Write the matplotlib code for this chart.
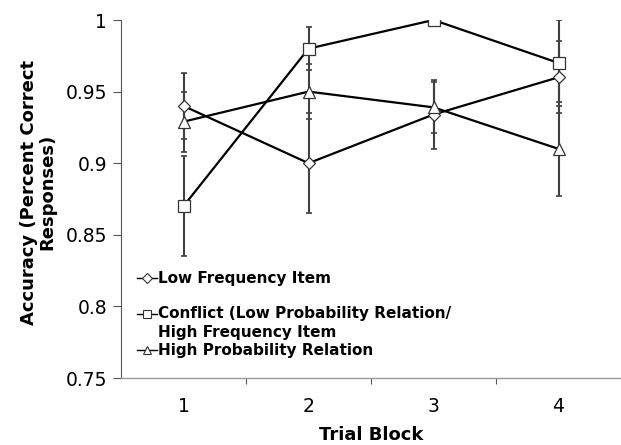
import matplotlib
matplotlib.use("Agg")
import matplotlib.pyplot as plt
import numpy as np

blocks = [1, 2, 3, 4]
block_labels = ["1", "2", "3", "4"]
low_freq = [0.940, 0.900, 0.934, 0.960]
low_freq_err = [0.023, 0.035, 0.024, 0.025]
conflict = [0.870, 0.980, 1.000, 0.970]
conflict_err = [0.035, 0.015, 0.0, 0.030]
high_prob = [0.929, 0.950, 0.939, 0.910]
high_prob_err = [0.021, 0.019, 0.018, 0.033]

labels = ["Low Frequency Item",
          "Conflict (Low Probability Relation/\nHigh Frequency Item",
          "High Probability Relation"]
markers = ["D", "s", "^"]

plt.rcParams['font.family'] = ['DejaVu Sans']
fig = plt.figure(figsize=(6.21, 4.45), dpi=100)
ax = fig.add_axes([121/621, 1-378/445, 500/621, 358/445])

series = [(low_freq, low_freq_err), (conflict, conflict_err), (high_prob, high_prob_err)]
x = np.array(blocks, dtype=float)
for (vals, errs), m in zip(series, markers):
    ax.errorbar(x, vals, yerr=errs, fmt='none', ecolor='#404040', elinewidth=1.5,
                capsize=2.5, capthick=1.2, zorder=2)
for (vals, errs), m in zip(series, markers):
    ax.plot(x, vals, color='black', lw=1.6, marker=m, ms=6 if m == 'D' else 8,
            mfc='white', mec='#333333', mew=0.9, zorder=3)

ax.set_xlim(0.5, 4.5)
ax.set_ylim(0.75, 1.0)
ax.set_yticks([0.75, 0.8, 0.85, 0.9, 0.95, 1.0])
ax.set_yticklabels(["0.75", "0.8", "0.85", "0.9", "0.95", "1"], fontsize=13.5)
ax.set_xticks([1.5, 2.5, 3.5])
ax.set_xticklabels([])
ax.set_xticks(x, minor=True)
ax.set_xticklabels(block_labels, minor=True, fontsize=13.5)
ax.tick_params(axis='x', which='minor', length=0, pad=14)
ax.tick_params(axis='x', which='major', length=4, width=0.8, color='#555555')
ax.tick_params(axis='y', length=6, width=0.8, color='#555555', pad=4)
for s in ['top', 'right']:
    ax.spines[s].set_visible(False)
ax.spines['left'].set_color('#555555')
ax.spines['bottom'].set_color('#999999')
ax.spines['left'].set_linewidth(0.8)
ax.spines['bottom'].set_linewidth(1.0)

fig.text(371/621, 1-435/445, "Trial Block", ha='center', va='center',
         fontsize=13, fontweight='bold')
fig.text(38/621, 1-192/445, "Accuracy (Percent Correct\nResponses)", rotation=90,
         ha='center', va='center', fontsize=13, fontweight='bold', linespacing=1.0)

# legend (manual, Excel style)
leg_y = [0.279, 0.179, 0.078]
line_gap = 19 / 358
for lab, m, yy in zip(labels, markers, leg_y):
    ax.plot([0.032, 0.072], [yy, yy], transform=ax.transAxes, color='black', lw=1.0,
            clip_on=False, zorder=4)
    ax.plot([0.052], [yy], transform=ax.transAxes, marker=m, ms=5 if m == 'D' else 6,
            mfc='white', mec='#333333', mew=0.8, clip_on=False, zorder=5)
    for k, part in enumerate(lab.split('\n')):
        ax.text(0.075, yy - k * line_gap, part, transform=ax.transAxes, va='center',
                ha='left', fontsize=11, fontweight='bold')

fig.savefig("out.png", dpi=100)
